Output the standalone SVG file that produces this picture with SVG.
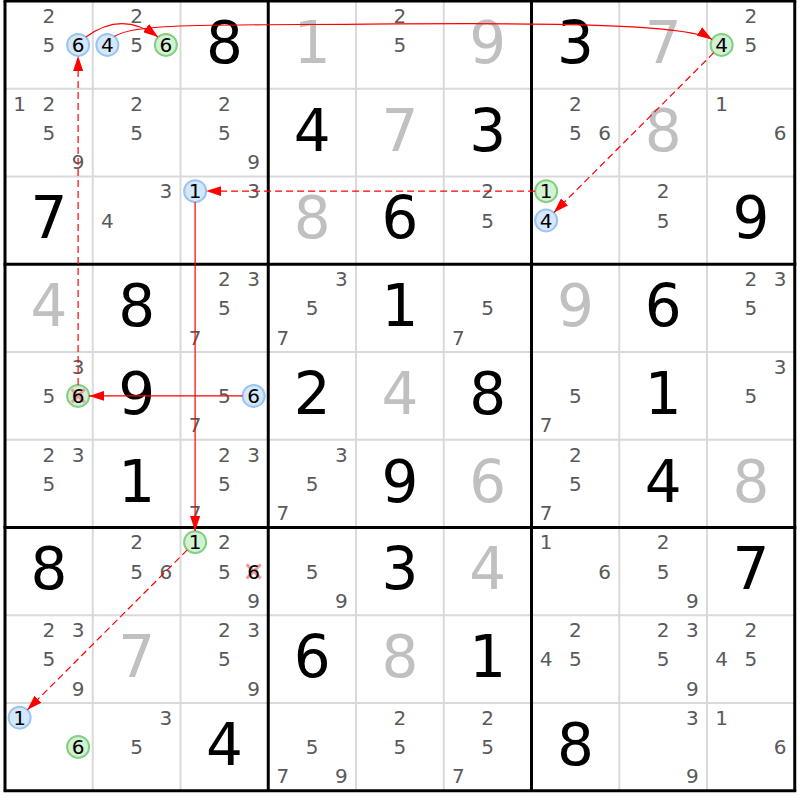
<svg xmlns="http://www.w3.org/2000/svg" width="800" height="800" viewBox="0 0 800 800">
<style>
text{font-family:"DejaVu Sans","Liberation Sans",sans-serif;text-anchor:middle}
.c{font-size:20px;fill:#5a5a5a}
.k{font-size:20px;fill:#000}
.g{font-size:58px;fill:#000}
.s{font-size:58px;fill:#c0c0c0}
.cb{fill:#d5e8fb;stroke:#99c5f2;stroke-width:2}
.cg{fill:#d3f1d3;stroke:#80d080;stroke-width:2}
.x{stroke:#f09a9a;stroke-width:3}
.thin{stroke:#d9d9d9;stroke-width:2}
.thick{stroke:#000;stroke-width:3}
.ln{fill:none;stroke:#f00;stroke-width:1.2}
.d{stroke-dasharray:7,4}
</style>
<defs>
<marker id="ah" markerUnits="userSpaceOnUse" markerWidth="15" markerHeight="10" refX="15" refY="5" orient="auto"><path d="M0,0 L15,5 L0,10 z" fill="#f00"/></marker>
</defs>
<rect width="800" height="800" fill="#fff"/>
<g id="grid-thin">
<line class="thin" x1="92.75" y1="1" x2="92.75" y2="790.75"/>
<line class="thin" x1="180.5" y1="1" x2="180.5" y2="790.75"/>
<line class="thin" x1="356" y1="1" x2="356" y2="790.75"/>
<line class="thin" x1="443.75" y1="1" x2="443.75" y2="790.75"/>
<line class="thin" x1="619.25" y1="1" x2="619.25" y2="790.75"/>
<line class="thin" x1="707" y1="1" x2="707" y2="790.75"/>
<line class="thin" x1="5" y1="88.75" x2="794.75" y2="88.75"/>
<line class="thin" x1="5" y1="176.5" x2="794.75" y2="176.5"/>
<line class="thin" x1="5" y1="352" x2="794.75" y2="352"/>
<line class="thin" x1="5" y1="439.75" x2="794.75" y2="439.75"/>
<line class="thin" x1="5" y1="615.25" x2="794.75" y2="615.25"/>
<line class="thin" x1="5" y1="703" x2="794.75" y2="703"/>
</g>
<g id="cells">
<!-- row 0 -->
<g id="r0c0" transform="translate(48.875,44.875)"><text class="c" x="0" y="-22">2</text><text class="c" x="0" y="7.2">5</text><circle class="cb" cx="29.25" cy="0" r="11"/><text class="k" x="29.25" y="7.2">6</text></g>
<g id="r0c1" transform="translate(136.625,44.875)"><circle class="cb" cx="-29.25" cy="0" r="11"/><text class="k" x="-29.25" y="7.2">4</text><text class="c" x="0" y="-22">2</text><text class="c" x="0" y="7.2">5</text><circle class="cg" cx="29.25" cy="0" r="11"/><text class="k" x="29.25" y="7.2">6</text></g>
<g id="r0c2" transform="translate(224.375,44.875)"><text class="g" x="0" y="18">8</text></g>
<g id="r0c3" transform="translate(312.125,44.875)"><text class="s" x="0" y="18">1</text></g>
<g id="r0c4" transform="translate(399.875,44.875)"><text class="c" x="0" y="-22">2</text><text class="c" x="0" y="7.2">5</text></g>
<g id="r0c5" transform="translate(487.625,44.875)"><text class="s" x="0" y="18">9</text></g>
<g id="r0c6" transform="translate(575.375,44.875)"><text class="g" x="0" y="18">3</text></g>
<g id="r0c7" transform="translate(663.125,44.875)"><text class="s" x="0" y="18">7</text></g>
<g id="r0c8" transform="translate(750.875,44.875)"><circle class="cg" cx="-29.25" cy="0" r="11"/><text class="k" x="-29.25" y="7.2">4</text><text class="c" x="0" y="-22">2</text><text class="c" x="0" y="7.2">5</text></g>
<!-- row 1 -->
<g id="r1c0" transform="translate(48.875,132.625)"><text class="c" x="-29.25" y="-22">1</text><text class="c" x="0" y="-22">2</text><text class="c" x="0" y="7.2">5</text><text class="c" x="29.25" y="36.4">9</text></g>
<g id="r1c1" transform="translate(136.625,132.625)"><text class="c" x="0" y="-22">2</text><text class="c" x="0" y="7.2">5</text></g>
<g id="r1c2" transform="translate(224.375,132.625)"><text class="c" x="0" y="-22">2</text><text class="c" x="0" y="7.2">5</text><text class="c" x="29.25" y="36.4">9</text></g>
<g id="r1c3" transform="translate(312.125,132.625)"><text class="g" x="0" y="18">4</text></g>
<g id="r1c4" transform="translate(399.875,132.625)"><text class="s" x="0" y="18">7</text></g>
<g id="r1c5" transform="translate(487.625,132.625)"><text class="g" x="0" y="18">3</text></g>
<g id="r1c6" transform="translate(575.375,132.625)"><text class="c" x="0" y="-22">2</text><text class="c" x="0" y="7.2">5</text><text class="c" x="29.25" y="7.2">6</text></g>
<g id="r1c7" transform="translate(663.125,132.625)"><text class="s" x="0" y="18">8</text></g>
<g id="r1c8" transform="translate(750.875,132.625)"><text class="c" x="-29.25" y="-22">1</text><text class="c" x="29.25" y="7.2">6</text></g>
<!-- row 2 -->
<g id="r2c0" transform="translate(48.875,220.375)"><text class="g" x="0" y="18">7</text></g>
<g id="r2c1" transform="translate(136.625,220.375)"><text class="c" x="29.25" y="-22">3</text><text class="c" x="-29.25" y="7.2">4</text></g>
<g id="r2c2" transform="translate(224.375,220.375)"><circle class="cb" cx="-29.25" cy="-29.25" r="11"/><text class="k" x="-29.25" y="-22">1</text><text class="c" x="29.25" y="-22">3</text></g>
<g id="r2c3" transform="translate(312.125,220.375)"><text class="s" x="0" y="18">8</text></g>
<g id="r2c4" transform="translate(399.875,220.375)"><text class="g" x="0" y="18">6</text></g>
<g id="r2c5" transform="translate(487.625,220.375)"><text class="c" x="0" y="-22">2</text><text class="c" x="0" y="7.2">5</text></g>
<g id="r2c6" transform="translate(575.375,220.375)"><circle class="cg" cx="-29.25" cy="-29.25" r="11"/><text class="k" x="-29.25" y="-22">1</text><circle class="cb" cx="-29.25" cy="0" r="11"/><text class="k" x="-29.25" y="7.2">4</text></g>
<g id="r2c7" transform="translate(663.125,220.375)"><text class="c" x="0" y="-22">2</text><text class="c" x="0" y="7.2">5</text></g>
<g id="r2c8" transform="translate(750.875,220.375)"><text class="g" x="0" y="18">9</text></g>
<!-- row 3 -->
<g id="r3c0" transform="translate(48.875,308.125)"><text class="s" x="0" y="18">4</text></g>
<g id="r3c1" transform="translate(136.625,308.125)"><text class="g" x="0" y="18">8</text></g>
<g id="r3c2" transform="translate(224.375,308.125)"><text class="c" x="0" y="-22">2</text><text class="c" x="29.25" y="-22">3</text><text class="c" x="0" y="7.2">5</text><text class="c" x="-29.25" y="36.4">7</text></g>
<g id="r3c3" transform="translate(312.125,308.125)"><text class="c" x="29.25" y="-22">3</text><text class="c" x="0" y="7.2">5</text><text class="c" x="-29.25" y="36.4">7</text></g>
<g id="r3c4" transform="translate(399.875,308.125)"><text class="g" x="0" y="18">1</text></g>
<g id="r3c5" transform="translate(487.625,308.125)"><text class="c" x="0" y="7.2">5</text><text class="c" x="-29.25" y="36.4">7</text></g>
<g id="r3c6" transform="translate(575.375,308.125)"><text class="s" x="0" y="18">9</text></g>
<g id="r3c7" transform="translate(663.125,308.125)"><text class="g" x="0" y="18">6</text></g>
<g id="r3c8" transform="translate(750.875,308.125)"><text class="c" x="0" y="-22">2</text><text class="c" x="29.25" y="-22">3</text><text class="c" x="0" y="7.2">5</text></g>
<!-- row 4 -->
<g id="r4c0" transform="translate(48.875,395.875)"><text class="c" x="29.25" y="-22">3</text><text class="c" x="0" y="7.2">5</text><circle class="cg" cx="29.25" cy="0" r="11"/><line class="x" x1="22.75" y1="-6.5" x2="35.75" y2="6.5"/><line class="x" x1="22.75" y1="6.5" x2="35.75" y2="-6.5"/><text class="k" x="29.25" y="7.2">6</text></g>
<g id="r4c1" transform="translate(136.625,395.875)"><text class="g" x="0" y="18">9</text></g>
<g id="r4c2" transform="translate(224.375,395.875)"><text class="c" x="0" y="7.2">5</text><circle class="cb" cx="29.25" cy="0" r="11"/><text class="k" x="29.25" y="7.2">6</text><text class="c" x="-29.25" y="36.4">7</text></g>
<g id="r4c3" transform="translate(312.125,395.875)"><text class="g" x="0" y="18">2</text></g>
<g id="r4c4" transform="translate(399.875,395.875)"><text class="s" x="0" y="18">4</text></g>
<g id="r4c5" transform="translate(487.625,395.875)"><text class="g" x="0" y="18">8</text></g>
<g id="r4c6" transform="translate(575.375,395.875)"><text class="c" x="0" y="7.2">5</text><text class="c" x="-29.25" y="36.4">7</text></g>
<g id="r4c7" transform="translate(663.125,395.875)"><text class="g" x="0" y="18">1</text></g>
<g id="r4c8" transform="translate(750.875,395.875)"><text class="c" x="29.25" y="-22">3</text><text class="c" x="0" y="7.2">5</text></g>
<!-- row 5 -->
<g id="r5c0" transform="translate(48.875,483.625)"><text class="c" x="0" y="-22">2</text><text class="c" x="29.25" y="-22">3</text><text class="c" x="0" y="7.2">5</text></g>
<g id="r5c1" transform="translate(136.625,483.625)"><text class="g" x="0" y="18">1</text></g>
<g id="r5c2" transform="translate(224.375,483.625)"><text class="c" x="0" y="-22">2</text><text class="c" x="29.25" y="-22">3</text><text class="c" x="0" y="7.2">5</text><text class="c" x="-29.25" y="36.4">7</text></g>
<g id="r5c3" transform="translate(312.125,483.625)"><text class="c" x="29.25" y="-22">3</text><text class="c" x="0" y="7.2">5</text><text class="c" x="-29.25" y="36.4">7</text></g>
<g id="r5c4" transform="translate(399.875,483.625)"><text class="g" x="0" y="18">9</text></g>
<g id="r5c5" transform="translate(487.625,483.625)"><text class="s" x="0" y="18">6</text></g>
<g id="r5c6" transform="translate(575.375,483.625)"><text class="c" x="0" y="-22">2</text><text class="c" x="0" y="7.2">5</text><text class="c" x="-29.25" y="36.4">7</text></g>
<g id="r5c7" transform="translate(663.125,483.625)"><text class="g" x="0" y="18">4</text></g>
<g id="r5c8" transform="translate(750.875,483.625)"><text class="s" x="0" y="18">8</text></g>
<!-- row 6 -->
<g id="r6c0" transform="translate(48.875,571.375)"><text class="g" x="0" y="18">8</text></g>
<g id="r6c1" transform="translate(136.625,571.375)"><text class="c" x="0" y="-22">2</text><text class="c" x="0" y="7.2">5</text><text class="c" x="29.25" y="7.2">6</text></g>
<g id="r6c2" transform="translate(224.375,571.375)"><circle class="cg" cx="-29.25" cy="-29.25" r="11"/><text class="k" x="-29.25" y="-22">1</text><text class="c" x="0" y="-22">2</text><text class="c" x="0" y="7.2">5</text><line class="x" x1="22.25" y1="-7" x2="36.25" y2="7"/><line class="x" x1="22.25" y1="7" x2="36.25" y2="-7"/><text class="k" x="29.25" y="7.2">6</text><text class="c" x="29.25" y="36.4">9</text></g>
<g id="r6c3" transform="translate(312.125,571.375)"><text class="c" x="0" y="7.2">5</text><text class="c" x="29.25" y="36.4">9</text></g>
<g id="r6c4" transform="translate(399.875,571.375)"><text class="g" x="0" y="18">3</text></g>
<g id="r6c5" transform="translate(487.625,571.375)"><text class="s" x="0" y="18">4</text></g>
<g id="r6c6" transform="translate(575.375,571.375)"><text class="c" x="-29.25" y="-22">1</text><text class="c" x="29.25" y="7.2">6</text></g>
<g id="r6c7" transform="translate(663.125,571.375)"><text class="c" x="0" y="-22">2</text><text class="c" x="0" y="7.2">5</text><text class="c" x="29.25" y="36.4">9</text></g>
<g id="r6c8" transform="translate(750.875,571.375)"><text class="g" x="0" y="18">7</text></g>
<!-- row 7 -->
<g id="r7c0" transform="translate(48.875,659.125)"><text class="c" x="0" y="-22">2</text><text class="c" x="29.25" y="-22">3</text><text class="c" x="0" y="7.2">5</text><text class="c" x="29.25" y="36.4">9</text></g>
<g id="r7c1" transform="translate(136.625,659.125)"><text class="s" x="0" y="18">7</text></g>
<g id="r7c2" transform="translate(224.375,659.125)"><text class="c" x="0" y="-22">2</text><text class="c" x="29.25" y="-22">3</text><text class="c" x="0" y="7.2">5</text><text class="c" x="29.25" y="36.4">9</text></g>
<g id="r7c3" transform="translate(312.125,659.125)"><text class="g" x="0" y="18">6</text></g>
<g id="r7c4" transform="translate(399.875,659.125)"><text class="s" x="0" y="18">8</text></g>
<g id="r7c5" transform="translate(487.625,659.125)"><text class="g" x="0" y="18">1</text></g>
<g id="r7c6" transform="translate(575.375,659.125)"><text class="c" x="0" y="-22">2</text><text class="c" x="-29.25" y="7.2">4</text><text class="c" x="0" y="7.2">5</text></g>
<g id="r7c7" transform="translate(663.125,659.125)"><text class="c" x="0" y="-22">2</text><text class="c" x="29.25" y="-22">3</text><text class="c" x="0" y="7.2">5</text><text class="c" x="29.25" y="36.4">9</text></g>
<g id="r7c8" transform="translate(750.875,659.125)"><text class="c" x="0" y="-22">2</text><text class="c" x="-29.25" y="7.2">4</text><text class="c" x="0" y="7.2">5</text></g>
<!-- row 8 -->
<g id="r8c0" transform="translate(48.875,746.875)"><circle class="cb" cx="-29.25" cy="-29.25" r="11"/><text class="k" x="-29.25" y="-22">1</text><circle class="cg" cx="29.25" cy="0" r="11"/><text class="k" x="29.25" y="7.2">6</text></g>
<g id="r8c1" transform="translate(136.625,746.875)"><text class="c" x="29.25" y="-22">3</text><text class="c" x="0" y="7.2">5</text></g>
<g id="r8c2" transform="translate(224.375,746.875)"><text class="g" x="0" y="18">4</text></g>
<g id="r8c3" transform="translate(312.125,746.875)"><text class="c" x="0" y="7.2">5</text><text class="c" x="-29.25" y="36.4">7</text><text class="c" x="29.25" y="36.4">9</text></g>
<g id="r8c4" transform="translate(399.875,746.875)"><text class="c" x="0" y="-22">2</text><text class="c" x="0" y="7.2">5</text></g>
<g id="r8c5" transform="translate(487.625,746.875)"><text class="c" x="0" y="-22">2</text><text class="c" x="0" y="7.2">5</text><text class="c" x="-29.25" y="36.4">7</text></g>
<g id="r8c6" transform="translate(575.375,746.875)"><text class="g" x="0" y="18">8</text></g>
<g id="r8c7" transform="translate(663.125,746.875)"><text class="c" x="29.25" y="-22">3</text><text class="c" x="29.25" y="36.4">9</text></g>
<g id="r8c8" transform="translate(750.875,746.875)"><text class="c" x="-29.25" y="-22">1</text><text class="c" x="29.25" y="7.2">6</text></g>
</g>
<g id="grid-thick">
<line class="thick" x1="5" y1="1" x2="5" y2="790.75"/>
<line class="thick" x1="268.25" y1="1" x2="268.25" y2="790.75"/>
<line class="thick" x1="531.5" y1="1" x2="531.5" y2="790.75"/>
<line class="thick" x1="794.75" y1="1" x2="794.75" y2="790.75"/>
<line class="thick" x1="3.5" y1="1" x2="796.25" y2="1"/>
<line class="thick" x1="3.5" y1="264.25" x2="796.25" y2="264.25"/>
<line class="thick" x1="3.5" y1="527.5" x2="796.25" y2="527.5"/>
<line class="thick" x1="3.5" y1="790.75" x2="796.25" y2="790.75"/>
</g>
<g id="connectors">
<path class="ln" d="M85.9,37.1 Q122,10 158.1,37.1" marker-end="url(#ah)"/>
<path class="ln" d="M114.5,36.5 C130,26 170,25 300,24.5 C450,24 680,19 712.1,39.4" marker-end="url(#ah)"/>
<path class="ln d" d="M713.8,52.7 L553.9,212.6" marker-end="url(#ah)"/>
<path class="ln d" d="M535.1,191.1 L206.1,191.1" marker-end="url(#ah)"/>
<path class="ln" d="M195.1,202.1 L195.1,531.1" marker-end="url(#ah)"/>
<path class="ln d" d="M187.3,549.9 L27.4,709.8" marker-end="url(#ah)"/>
<path class="ln" d="M242.6,395.9 L89.1,395.9" marker-end="url(#ah)"/>
<path class="ln d" d="M78.1,384.9 L78.1,55.9" marker-end="url(#ah)"/>
</g>
</svg>
